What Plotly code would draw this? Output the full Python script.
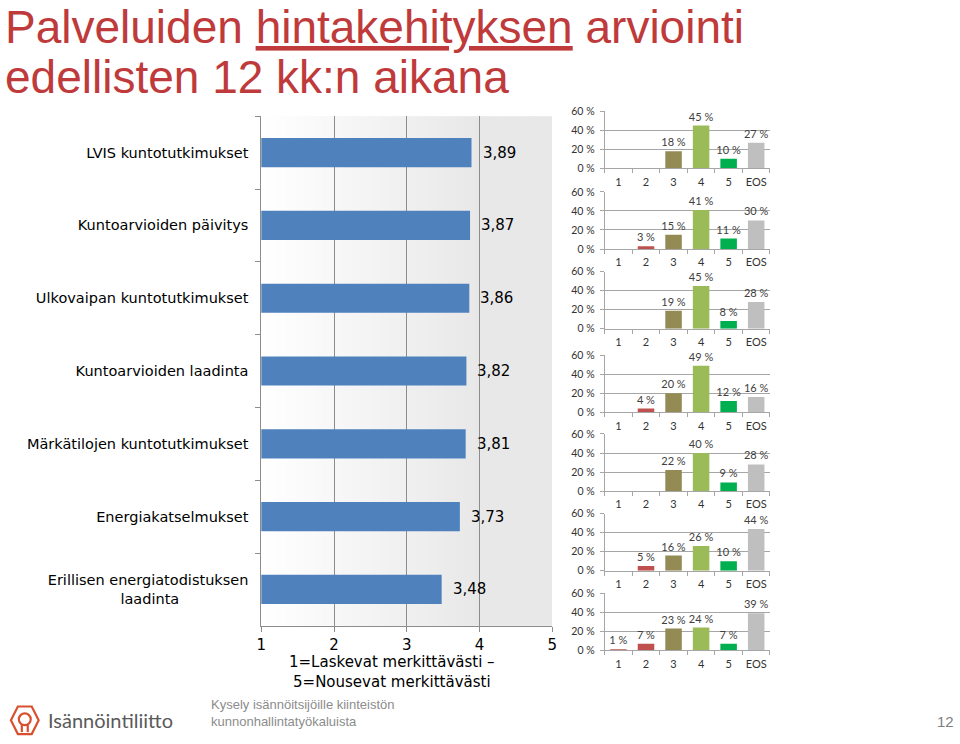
import plotly.graph_objects as go

W, H = 960, 744

# ---------------- data ----------------
title_line1 = "Palveluiden <u>hintakehityksen</u> arviointi"
title_line2 = "edellisten 12 kk:n aikana"

services = [
    "LVIS kuntotutkimukset",
    "Kuntoarvioiden päivitys",
    "Ulkovaipan kuntotutkimukset",
    "Kuntoarvioiden laadinta",
    "Märkätilojen kuntotutkimukset",
    "Energiakatselmukset",
    "Erillisen energiatodistuksen laadinta",
]
service_ticktext = [
    "LVIS kuntotutkimukset",
    "Kuntoarvioiden päivitys",
    "Ulkovaipan kuntotutkimukset",
    "Kuntoarvioiden laadinta",
    "Märkätilojen kuntotutkimukset",
    "Energiakatselmukset",
    "Erillisen energiatodistuksen<br>laadinta" + "\u00a0" * 15,
]
mean_scores = [3.89, 3.87, 3.86, 3.82, 3.81, 3.73, 3.48]
scale_ticks = [1, 2, 3, 4, 5]
scale_title = "1=Laskevat merkittävästi –<br>5=Nousevat merkittävästi"

answer_categories = ["1", "2", "3", "4", "5", "EOS"]
dist_lvis = [None, None, 18, 45, 10, 27]
dist_paivitys = [None, 3, 15, 41, 11, 30]
dist_ulkovaippa = [None, None, 19, 45, 8, 28]
dist_laadinta = [None, 4, 20, 49, 12, 16]
dist_markatilat = [None, None, 22, 40, 9, 28]
dist_energiakatselmus = [None, 5, 16, 26, 10, 44]
dist_energiatodistus = [1, 7, 23, 24, 7, 39]
distributions = [dist_lvis, dist_paivitys, dist_ulkovaippa, dist_laadinta,
                 dist_markatilat, dist_energiakatselmus, dist_energiatodistus]
pct_ticks = [0, 20, 40, 60]
pct_ticktext = ["0 %", "20 %", "40 %", "60 %"]

footer_text = "Kysely isännöitsijöille kiinteistön<br>kunnonhallintatyökaluista"
org_name = "Isännöintiliitto"
page_no = "12"

# ---------------- styling ----------------
answer_colors = ["#C0504D", "#C0504D", "#948A54", "#9BBB59", "#00B050", "#BFBFBF"]
BAR_BLUE = "#4F81BD"
TITLE_RED = "#BF3A3A"
AX_GRAY = "#8c8c8c"
SM_GRAY = "#a6a6a6"
VFONT = "DejaVu Sans"
SFONT = "Lato"


def fx(px):
    return px / W


def fy(py):
    return 1 - py / H


fig = go.Figure()

# ---- left: mean score bar chart ----
fig.add_trace(go.Bar(
    x=mean_scores, y=services, orientation="h",
    marker=dict(color=BAR_BLUE, line=dict(width=0)),
    width=0.4, xaxis="x", yaxis="y", showlegend=False, hoverinfo="skip",
))

layout = dict(
    width=W, height=H,
    margin=dict(l=0, r=0, t=0, b=0),
    paper_bgcolor="white", plot_bgcolor="rgba(0,0,0,0)",
    showlegend=False,
    xaxis=dict(
        domain=[fx(259), fx(553)], range=[1, 5], tickvals=scale_ticks,
        showgrid=True, gridcolor=AX_GRAY, gridwidth=1,
        showline=True, linecolor=AX_GRAY, ticks="outside", ticklen=5,
        tickcolor=AX_GRAY, zeroline=False, anchor="y",
        tickfont=dict(family=VFONT, size=15, color="#000"),
    ),
    yaxis=dict(
        domain=[fy(630), fy(112)], type="category",
        categoryarray=services, autorange="reversed",
        tickvals=services, ticktext=service_ticktext,
        showline=True, linecolor=AX_GRAY, ticks="outside", tickson="boundaries",
        ticklen=5, tickcolor=AX_GRAY, ticklabelstandoff=9, showgrid=False,
        anchor="x", tickfont=dict(family=VFONT, size=14.5, color="#000"),
    ),
)

shapes = []
# gradient plot background (styling only)
n_strips = 120
for k in range(n_strips):
    x0 = 1 + 4 * k / n_strips
    x1 = 1 + 4 * (k + 1.6) / n_strips
    t = min(1.0, (k + 0.5) / (n_strips * 0.75))
    g = int(round(255 - 23 * t))
    shapes.append(dict(type="rect", xref="x", yref="y domain", x0=x0, x1=min(x1, 5),
                       y0=0, y1=1, fillcolor=f"rgb({g},{g},{g})",
                       line=dict(width=0), layer="below"))

annotations = []
for s, v in zip(services, mean_scores):
    annotations.append(dict(
        x=v, y=s, xref="x", yref="y", text=f"{v:.2f}".replace(".", ","),
        showarrow=False, xanchor="left", yanchor="middle", xshift=9,
        font=dict(family=VFONT, size=15, color="#000"),
    ))
annotations.append(dict(
    x=fx(391), y=fy(677), xref="paper", yref="paper", text=scale_title,
    showarrow=False, xanchor="center", yanchor="middle",
    font=dict(family=VFONT, size=15, color="#000"),
))

# ---- right: small multiples ----
panel_tops = [107, 189, 270, 355, 435, 516, 597]
panel_h = 58
for i, dist in enumerate(distributions):
    n = i + 2
    xa, ya = f"x{n}", f"y{n}"
    fig.add_trace(go.Bar(
        x=answer_categories, y=dist, xaxis=xa, yaxis=ya,
        marker=dict(color=answer_colors, line=dict(width=0)), width=0.6,
        text=[f"{v} %" if v is not None else "" for v in dist],
        textposition="outside", cliponaxis=False, constraintext="none",
        textfont=dict(family=SFONT, size=11, color="#404040"),
        showlegend=False, hoverinfo="skip",
    ))
    top = panel_tops[i]
    layout[f"xaxis{n}"] = dict(
        domain=[fx(606), fx(773)], type="category",
        categoryarray=answer_categories, anchor=ya, tickangle=0,
        showline=True, linecolor=SM_GRAY, ticks="outside", tickson="boundaries",
        ticklen=4, tickcolor=SM_GRAY, showgrid=False, ticklabelstandoff=3,
        tickfont=dict(family=SFONT, size=11, color="#333"),
    )
    layout[f"yaxis{n}"] = dict(
        domain=[fy(top + panel_h), fy(top)], range=[0, 60],
        tickvals=pct_ticks, ticktext=pct_ticktext, anchor=xa,
        showgrid=True, gridcolor=SM_GRAY, showline=True, linecolor=SM_GRAY,
        ticks="outside", ticklen=4, tickcolor=SM_GRAY, zeroline=False,
        ticklabelstandoff=3,
        tickfont=dict(family=SFONT, size=10.5, color="#333"),
    )

# ---- title ----
annotations.append(dict(
    x=0, y=fy(21), xref="paper", yref="paper", text=title_line1,
    showarrow=False, xanchor="left", yanchor="middle", xshift=-2,
    font=dict(family="Liberation Sans", size=46, color=TITLE_RED),
))
annotations.append(dict(
    x=0, y=fy(72), xref="paper", yref="paper", text=title_line2,
    showarrow=False, xanchor="left", yanchor="middle", xshift=-2,
    font=dict(family="Liberation Sans", size=46, color=TITLE_RED),
))

# ---- footer ----
LOGO = "#D9502F"


def ppath(points, close=True):
    d = "M " + " L ".join(f"{fx(x):.5f},{fy(y):.5f}" for x, y in points)
    return d + (" Z" if close else "")


cx, cy = 20, 726
hexpts = [(cx - 7, cy - 14), (cx + 7, cy - 14), (cx + 14, cy), (cx + 7, cy + 14),
          (cx - 7, cy + 14), (cx - 14, cy)]
shapes.append(dict(type="path", xref="paper", yref="paper", path=ppath(hexpts),
                   line=dict(color=LOGO, width=2.2)))
shapes.append(dict(type="circle", xref="paper", yref="paper",
                   x0=fx(cx - 6), x1=fx(cx + 6), y0=fy(cy + 5), y1=fy(cy - 7),
                   line=dict(color=LOGO, width=2.2)))
shapes.append(dict(type="path", xref="paper", yref="paper",
                   path=ppath([(cx - 3, cy + 4), (cx - 3, cy + 12)], close=False),
                   line=dict(color=LOGO, width=2.2)))
shapes.append(dict(type="path", xref="paper", yref="paper",
                   path=ppath([(cx + 3, cy + 4), (cx + 3, cy + 12)], close=False),
                   line=dict(color=LOGO, width=2.2)))

annotations.append(dict(
    x=fx(41), y=fy(726), xref="paper", yref="paper", text=org_name,
    showarrow=False, xanchor="left", yanchor="middle",
    font=dict(family="Lato", size=20, color="#5a5a5a"),
))
annotations.append(dict(
    x=fx(206), y=fy(719), xref="paper", yref="paper", text=footer_text,
    showarrow=False, xanchor="left", yanchor="middle", align="left",
    font=dict(family="Liberation Sans", size=13, color="#8c8c8c"),
))
annotations.append(dict(
    x=fx(950), y=fy(727), xref="paper", yref="paper", text=page_no,
    showarrow=False, xanchor="center", yanchor="middle",
    font=dict(family="Liberation Sans", size=15, color="#7f7f7f"),
))

layout["shapes"] = shapes
layout["annotations"] = annotations
fig.update_layout(**layout)

fig.write_html("out.html")
